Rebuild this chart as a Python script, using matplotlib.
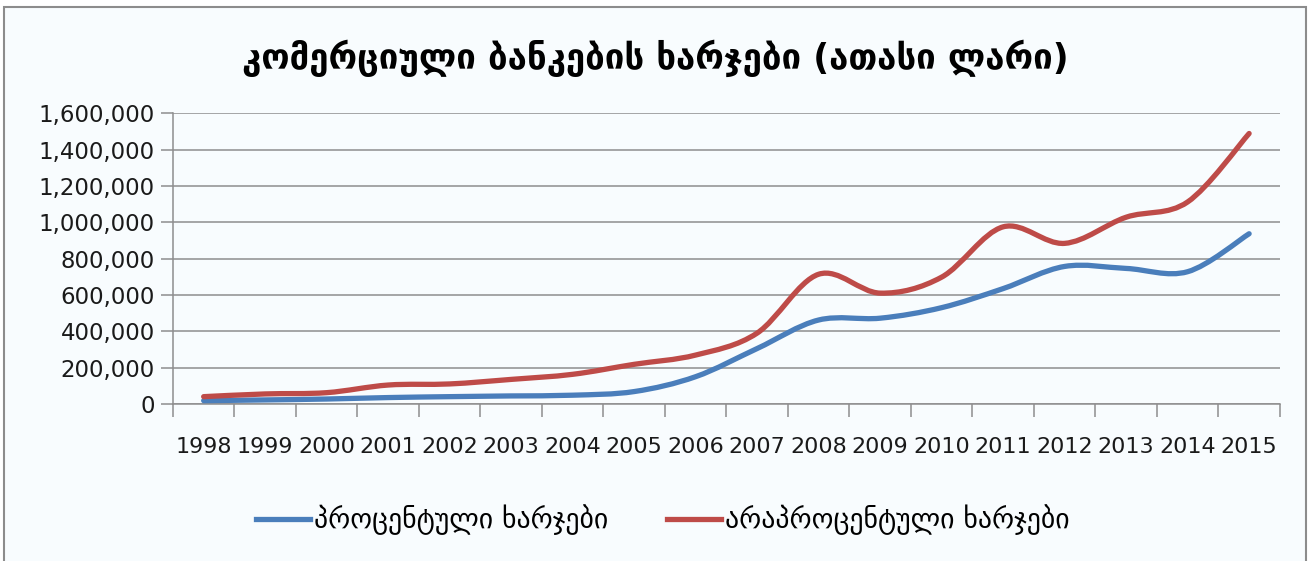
import matplotlib.pyplot as plt
from matplotlib.path import Path
from matplotlib.patches import PathPatch, Rectangle
from matplotlib.lines import Line2D
from matplotlib.ticker import FuncFormatter, MultipleLocator

plt.rcParams['font.family'] = ['DejaVu Sans']

years = [1998, 1999, 2000, 2001, 2002, 2003, 2004, 2005, 2006,
         2007, 2008, 2009, 2010, 2011, 2012, 2013, 2014, 2015]

# interest expenses, thousand GEL
interest = [18000, 22000, 27000, 35000, 40000, 44000, 48000, 68000, 150000,
            305000, 462000, 472000, 530000, 635000, 757000, 746000, 728000, 937000]

# non-interest expenses, thousand GEL
non_interest = [40000, 55000, 62000, 104000, 110000, 135000, 163000, 218000, 269000,
                390000, 714000, 610000, 698000, 975000, 884000, 1028000, 1112000, 1489000]

title = "კომერციული ბანკების ხარჯები (ათასი ლარი)"
series_names = ["პროცენტული ხარჯები", "არაპროცენტული ხარჯები"]
colors = ["#4A7EBB", "#BE4B48"]


def smooth_path(xs, ys):
    """cubic Bezier path through all points, Catmull-Rom style control points"""
    pts = list(zip(xs, ys))
    verts = [pts[0]]
    codes = [Path.MOVETO]
    n = len(pts)
    for i in range(n - 1):
        p0 = pts[max(i - 1, 0)]
        p1 = pts[i]
        p2 = pts[i + 1]
        p3 = pts[min(i + 2, n - 1)]
        c1 = (p1[0] + (p2[0] - p0[0]) / 6, p1[1] + (p2[1] - p0[1]) / 6)
        c2 = (p2[0] - (p3[0] - p1[0]) / 6, p2[1] - (p3[1] - p1[1]) / 6)
        verts += [c1, c2, p2]
        codes += [Path.CURVE4] * 3
    return Path(verts, codes)


fig = plt.figure(figsize=(13.1, 5.61), dpi=100, facecolor="white")
fig.patches.append(Rectangle((0.003, -0.02), 0.994, 1.008, transform=fig.transFigure,
                             facecolor="#F8FCFE", edgecolor="#8C8C8C", lw=1.5, zorder=-10))

ax = fig.add_axes([0.132, 0.280, 0.845, 0.518])
ax.set_facecolor("#F8FCFE")

x = list(range(len(years)))
for vals, col in zip([interest, non_interest], colors):
    ax.add_patch(PathPatch(smooth_path(x, vals), fill=False, edgecolor=col,
                           lw=3.8, capstyle="round", joinstyle="round", zorder=3))

ax.set_xlim(-0.5, len(years) - 0.5)
ax.set_ylim(0, 1600000)
ax.yaxis.set_major_locator(MultipleLocator(200000))
ax.yaxis.set_major_formatter(FuncFormatter(lambda v, p: f"{int(v):,}"))
ax.grid(axis="y", color="#8E8E8E", lw=1.1)
ax.set_axisbelow(True)

ax.set_xticks([i - 0.5 for i in range(len(years) + 1)])
ax.set_xticklabels([])
ax.set_xticks(x, minor=True)
ax.set_xticklabels([str(y) for y in years], minor=True, fontsize=16, color="#1A1A1A")
ax.tick_params(axis="x", which="major", length=9, color="#8E8E8E", width=1.1)
ax.tick_params(axis="x", which="minor", length=0, pad=24)
ax.tick_params(axis="y", length=9, color="#8E8E8E", width=1.1, labelsize=16.5, pad=4,
               labelcolor="#1A1A1A")

for side in ["top", "right"]:
    ax.spines[side].set_visible(False)
for side in ["left", "bottom"]:
    ax.spines[side].set_color("#8E8E8E")
    ax.spines[side].set_linewidth(1.1)

fig.text(0.5, 0.897, title, ha="center", va="center", fontsize=25, fontweight="bold")

handles = [Line2D([], [], color=c, lw=3.8) for c in colors]
fig.legend(handles, series_names, loc="center", bbox_to_anchor=(0.506, 0.073), ncol=2,
           frameon=False, handlelength=1.95, handletextpad=0.15,
           columnspacing=2.1, prop={"size": 20})

fig.savefig("out.png", dpi=100, facecolor=fig.get_facecolor())
